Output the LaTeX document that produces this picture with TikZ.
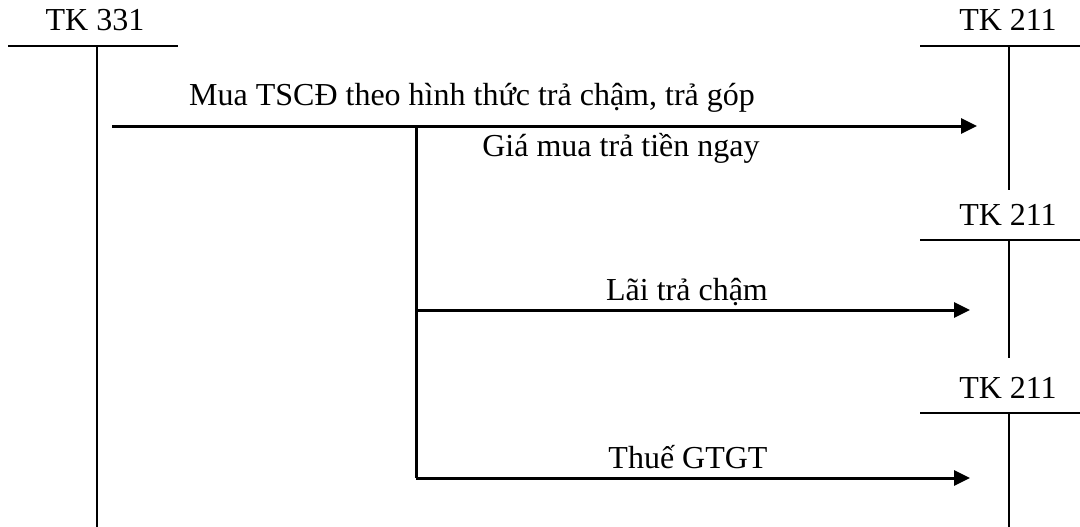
\documentclass[tikz,border=0pt]{standalone}
\usepackage{fontspec}
\setmainfont{Liberation Serif}
\usetikzlibrary{arrows.meta}
\begin{document}
\begin{tikzpicture}[x=1pt,y=-1pt,
  acct/.style={line width=2.2pt},
  flow/.style={line width=3pt,-{Triangle[length=16pt,width=15pt]}},
  branch/.style={line width=3pt},
  lbl/.style={font=\fontsize{32}{38}\selectfont,inner sep=0pt,anchor=base}]
\useasboundingbox (0,0) rectangle (1080,527);
% account TK 331
\node[lbl] (t331) at (95,31) {TK 331};
\coordinate (h331l) at (8,46);
\coordinate (h331r) at (178,46);
\coordinate (v331t) at (97,46);
\coordinate (v331b) at (97,527);
\draw[acct] (h331l) -- (h331r);
\draw[acct] (v331t) -- (v331b);
% account TK 211 (1)
\node[lbl] (t211a) at (1008,31) {TK 211};
\coordinate (h1l) at (920,46);
\coordinate (h1r) at (1080,46);
\coordinate (v1t) at (1009,46);
\coordinate (v1b) at (1009,190);
\draw[acct] (h1l) -- (h1r);
\draw[acct] (v1t) -- (v1b);
% account TK 211 (2)
\node[lbl] (t211b) at (1008,225) {TK 211};
\coordinate (h2l) at (920,240);
\coordinate (h2r) at (1080,240);
\coordinate (v2t) at (1009,240);
\coordinate (v2b) at (1009,358);
\draw[acct] (h2l) -- (h2r);
\draw[acct] (v2t) -- (v2b);
% account TK 211 (3)
\node[lbl] (t211c) at (1008,398) {TK 211};
\coordinate (h3l) at (920,413);
\coordinate (h3r) at (1080,413);
\coordinate (v3t) at (1009,413);
\coordinate (v3b) at (1009,527);
\draw[acct] (h3l) -- (h3r);
\draw[acct] (v3t) -- (v3b);
% flows
\coordinate (m0) at (112,126);
\coordinate (m1) at (977,126);
\coordinate (b0) at (416,126);
\coordinate (b1) at (416,310);
\coordinate (b2) at (416,478);
\coordinate (e1) at (970,310);
\coordinate (e2) at (970,478);
\draw[flow] (m0) -- (m1);
\draw[branch] (b0) -- (b2);
\draw[flow] (b1) -- (e1);
\draw[flow] (b2) -- (e2);
\node[lbl] (lmain) at (472,106) {Mua TSCĐ theo hình thức trả chậm, trả góp};
\node[lbl] (lgia) at (621,157) {Giá mua trả tiền ngay};
\node[lbl] (llai) at (687,300) {Lãi trả chậm};
\node[lbl] (lthue) at (688,468) {Thuế GTGT};
\end{tikzpicture}
\end{document}
